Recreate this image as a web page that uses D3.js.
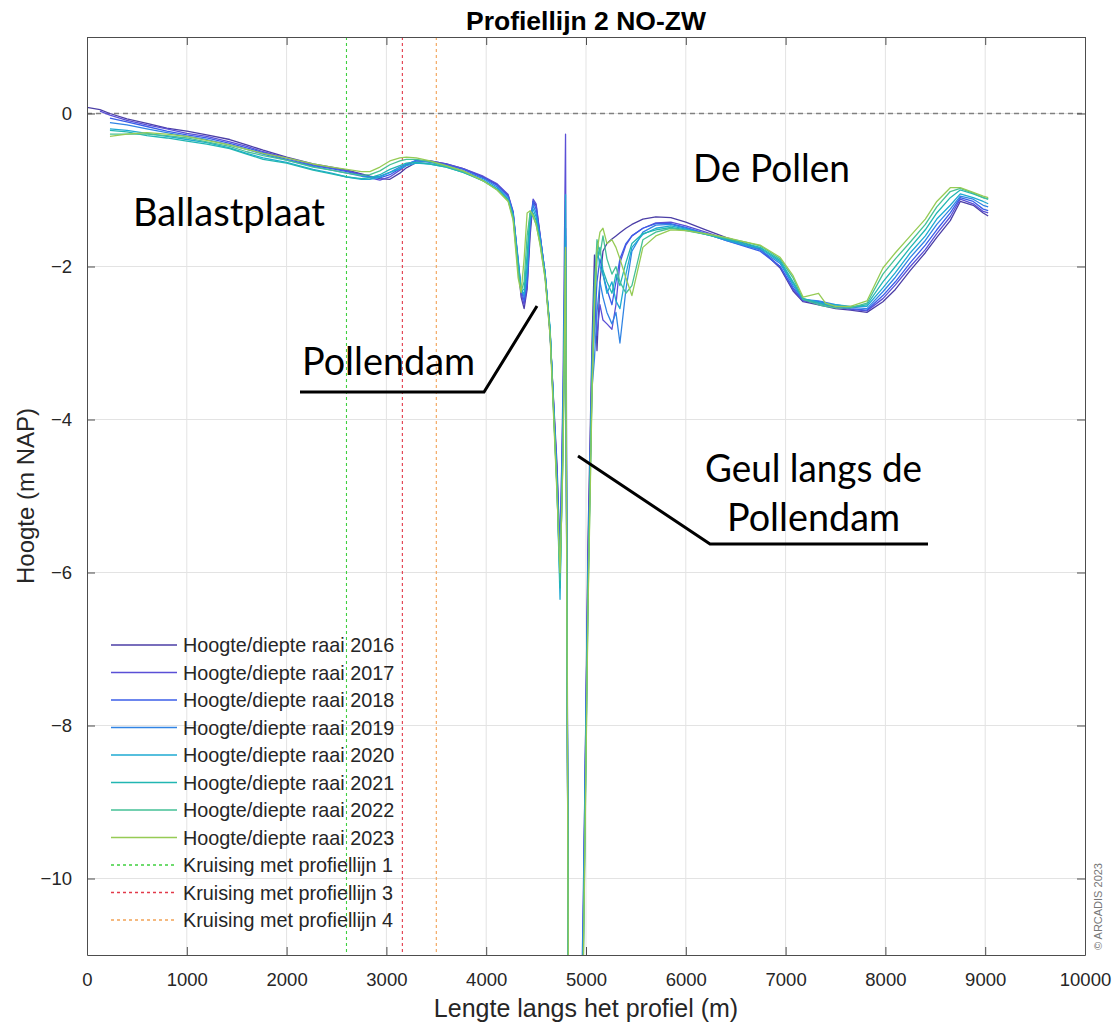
<!DOCTYPE html>
<html>
<head>
<meta charset="utf-8">
<script src="https://cdn.jsdelivr.net/npm/d3@7"></script>
<style>
  body { margin: 0; background: #fff; }
  svg { display: block; }
</style>
</head>
<body>
<svg id="chart" width="1117" height="1026"></svg>
<script>
// Distance along the profile (m), shared by all survey years
const distance = [
  0, 130, 230, 400, 600, 800, 1000, 1200, 1430, 1600, 1765, 2000, 2265, 2450, 2605, 2750, 2835, 2935, 3035, 3135, 3200, 3300, 3437, 3600, 3770, 3970, 4110, 4220, 4270,
  4320, 4350, 4380, 4410, 4440, 4470, 4500, 4540, 4590,
  4640, 4710, 4740, 4770, 4795, 4825, 4950, 4970, 5020, 5060,
  5085, 5110, 5140, 5170, 5210, 5260, 5300, 5340, 5400, 5460, 5570,
  5700, 5850, 6000, 6200, 6400, 6600, 6745, 6945, 7075, 7175, 7330, 7400, 7500, 7650, 7815, 7975, 8100, 8250, 8400, 8515, 8650, 8750, 8880, 8980, 9030
];

// Bed level (m NAP) per survey year
const raai2016 = [
  0.08, 0.05, 0.0, -0.07, -0.13, -0.19, -0.23, -0.28, -0.34, -0.41, -0.48, -0.57, -0.66, -0.7, -0.74, -0.79, -0.82, -0.85, -0.86, -0.78, -0.71, -0.64, -0.62, -0.66, -0.72, -0.83, -0.93, -1.07, -1.3,
  -2.0, -2.4, -2.55, -2.3, -1.6, -1.15, -1.2, -1.6, -2.1,
  -2.9, -4.6, -5.8, -4.2, -2.0, -12, -12, -10.8, -5.6, -3.0,
  -1.85, -3.1, -2.2, -1.8, -1.7, -1.64, -1.6, -1.56, -1.5, -1.45, -1.38,
  -1.35, -1.36, -1.42, -1.52, -1.62, -1.7, -1.77, -2.02, -2.32, -2.46, -2.5, -2.52, -2.55, -2.57, -2.6, -2.46, -2.3, -2.05, -1.82, -1.62, -1.4, -1.15, -1.2, -1.3, -1.34
];
const raai2017 = [
  null, 0.03, -0.02, -0.09, -0.15, -0.2, -0.26, -0.3, -0.37, -0.43, -0.5, -0.58, -0.67, -0.71, -0.75, -0.8, -0.84, -0.87, -0.83, -0.74, -0.68, -0.62, -0.62, -0.66, -0.72, -0.82, -0.92, -1.06, -1.28,
  -1.95, -2.35, -2.5, -2.25, -1.5, -1.12, -1.18, -1.58, -2.1,
  -2.85, -4.7, -5.9, -3.5, -0.27, -12, -12, -11.0, -5.8, -3.2,
  -2.4, -2.9, -2.5, -2.7, -2.75, -2.82, -2.5, -1.95, -1.72, -1.6, -1.5,
  -1.43, -1.42, -1.47, -1.55, -1.64, -1.72, -1.78, -2.0, -2.3, -2.45, -2.48, -2.5, -2.53, -2.56, -2.58, -2.42, -2.24, -2.0, -1.78, -1.57, -1.35, -1.12, -1.18, -1.28, -1.3
];
const raai2018 = [
  null, null, -0.06, -0.11, -0.17, -0.23, -0.28, -0.32, -0.39, -0.45, -0.51, -0.6, -0.68, -0.72, -0.76, -0.81, -0.83, -0.84, -0.8, -0.72, -0.67, -0.61, -0.63, -0.67, -0.73, -0.84, -0.94, -1.08, -1.3,
  -1.9, -2.3, -2.45, -2.2, -1.45, -1.15, -1.25, -1.6, -2.08,
  -2.85, -4.75, -5.7, -3.8, -1.5, -12, -12, -10.5, -6.0, -3.4,
  -2.8, -2.2, -1.9, -2.1, -2.3, -2.5, -2.2, -1.9, -1.7, -1.6, -1.5,
  -1.44, -1.44, -1.49, -1.57, -1.66, -1.74, -1.8, -2.0, -2.28, -2.44, -2.46, -2.48, -2.52, -2.55, -2.57, -2.38, -2.2, -1.95, -1.72, -1.52, -1.3, -1.1, -1.15, -1.25, -1.27
];
const raai2019 = [
  null, null, -0.12, -0.15, -0.2, -0.25, -0.3, -0.34, -0.41, -0.47, -0.53, -0.61, -0.69, -0.74, -0.78, -0.82, -0.83, -0.82, -0.77, -0.7, -0.66, -0.62, -0.64, -0.68, -0.75, -0.85, -0.96, -1.1, -1.32,
  -1.92, -2.3, -2.4, -2.1, -1.4, -1.2, -1.3, -1.62, -2.08,
  -2.85, -4.8, -5.95, -4.0, -1.6, -12, -12, -10.9, -6.1, -3.6,
  -3.2, -2.6, -2.2, -2.4, -2.6, -2.75, -2.6, -3.0, -2.3, -1.8, -1.55,
  -1.46, -1.45, -1.5, -1.57, -1.66, -1.73, -1.78, -1.96, -2.25, -2.43, -2.45, -2.47, -2.5, -2.53, -2.55, -2.33, -2.14, -1.88, -1.66, -1.45, -1.25, -1.08, -1.12, -1.2, -1.22
];
const raai2020 = [
  null, null, -0.2, -0.22, -0.26, -0.3, -0.34, -0.38, -0.45, -0.52, -0.58, -0.64, -0.73, -0.78, -0.83, -0.86, -0.86, -0.83, -0.77, -0.72, -0.68, -0.65, -0.66, -0.7, -0.77, -0.87, -0.98, -1.12, -1.33,
  -1.95, -2.3, -2.36, -2.0, -1.35, -1.25, -1.35, -1.65, -2.1,
  -2.8, -4.9, -6.35, -4.1, -1.06, -12, -12, -11.2, -6.3, -3.3,
  -2.2, -1.75, -2.0, -2.1, -2.35, -2.2, -2.45, -2.55, -2.1, -1.75, -1.58,
  -1.5, -1.47, -1.51, -1.58, -1.65, -1.72, -1.76, -1.94, -2.22, -2.42, -2.47, -2.49, -2.5, -2.52, -2.52, -2.28, -2.08, -1.82, -1.6, -1.38, -1.2, -1.05, -1.1, -1.15, -1.18
];
const raai2021 = [
  null, null, -0.22, -0.24, -0.29, -0.32, -0.36, -0.4, -0.46, -0.53, -0.6, -0.65, -0.74, -0.79, -0.83, -0.85, -0.84, -0.8, -0.73, -0.68, -0.65, -0.64, -0.66, -0.7, -0.77, -0.88, -0.99, -1.13, -1.35,
  -2.0, -2.32, -2.3, -1.85, -1.3, -1.3, -1.4, -1.68, -2.12,
  -2.82, -4.9, -6.2, -4.3, -1.9, -12, -12, -11.3, -6.2, -3.5,
  -2.6, -1.9, -1.75, -2.05, -2.2, -2.35, -2.1, -2.25, -1.95, -1.7, -1.57,
  -1.52, -1.49, -1.52, -1.58, -1.64, -1.7, -1.75, -1.92, -2.2, -2.42, -2.48, -2.5, -2.52, -2.53, -2.5, -2.2, -2.0, -1.75, -1.52, -1.3, -1.1, -1.0, -1.05, -1.1, -1.12
];
const raai2022 = [
  null, null, -0.27, -0.27, -0.27, -0.29, -0.32, -0.37, -0.43, -0.5, -0.55, -0.61, -0.7, -0.74, -0.78, -0.81, -0.8, -0.75, -0.67, -0.62, -0.6, -0.6, -0.63, -0.69, -0.76, -0.88, -1.0, -1.14, -1.37,
  -2.05, -2.33, -2.2, -1.6, -1.3, -1.35, -1.45, -1.7, -2.14,
  -2.85, -4.95, -6.1, -4.4, -1.8, -12, -12, -11.4, -6.4, -3.6,
  -2.3, -1.65, -1.85, -1.6, -1.9, -2.1, -2.0, -2.2, -2.35, -2.25, -1.65,
  -1.55, -1.5, -1.53, -1.58, -1.63, -1.68, -1.73, -1.9, -2.15, -2.43, -2.5, -2.52, -2.54, -2.54, -2.48, -2.1, -1.9, -1.68, -1.45, -1.22, -1.02, -0.98, -1.04, -1.1, -1.12
];
const raai2023 = [
  null, null, -0.3, -0.27, -0.25, -0.27, -0.3, -0.35, -0.41, -0.47, -0.52, -0.58, -0.66, -0.7, -0.73, -0.76, -0.76, -0.7, -0.62, -0.58, -0.57, -0.58, -0.62, -0.68, -0.75, -0.88, -1.0, -1.15, -1.4,
  -2.15, -2.34, -1.9, -1.3, -1.27, -1.33, -1.45, -1.72, -2.16,
  -2.9, -5.0, -6.0, -4.5, -1.75, -12, -12, -11.5, -6.5, -3.7,
  -2.5, -1.8, -1.55, -1.5, -1.7, -1.65, -1.75, -1.9, -2.15, -2.38, -1.75,
  -1.6, -1.52, -1.53, -1.57, -1.62, -1.68, -1.72, -1.88, -2.12, -2.4, -2.35, -2.48, -2.52, -2.52, -2.45, -2.02, -1.82, -1.6, -1.38, -1.15, -0.97, -0.97, -1.03, -1.08, -1.1
];

const years = ["2016", "2017", "2018", "2019", "2020", "2021", "2022", "2023"];
const yearValues = [raai2016, raai2017, raai2018, raai2019, raai2020, raai2021, raai2022, raai2023];
const yearColors = ["#4b3ea6", "#5a4fd6", "#3b5ee8", "#3184e4", "#1eaad2", "#22b6b2", "#45c196", "#96cb55"];

// Crossings with the other profile lines (m along this profile)
const crossingDistance = [2600, 3160, 3500];
const crossingNames = ["Kruising met profiellijn 1", "Kruising met profiellijn 3", "Kruising met profiellijn 4"];
const crossingColors = ["#3fcf3f", "#e23a4a", "#f2a255"];

const xTicks = [0, 1000, 2000, 3000, 4000, 5000, 6000, 7000, 8000, 9000, 10000];
const yTicks = [-10, -8, -6, -4, -2, 0];

const svg = d3.select("#chart");
const W = 1117, H = 1026;
const margin = { left: 87, right: 32, top: 37, bottom: 71 };
const x = d3.scaleLinear().domain([0, 10000]).range([margin.left, W - margin.right]);
const y = d3.scaleLinear().domain([-11, 1]).range([H - margin.bottom, margin.top]);
const font = "'Liberation Sans', Arial, sans-serif";
const axisColor = "#4d4d4d";
const textColor = "#262626";

svg.append("rect").attr("width", W).attr("height", H).attr("fill", "#fff");

svg.append("defs").append("clipPath").attr("id", "plotClip")
  .append("rect")
  .attr("x", x(0)).attr("y", y(1))
  .attr("width", x(10000) - x(0)).attr("height", y(-11) - y(1));

// grid
const grid = svg.append("g");
grid.selectAll(".gx").data(xTicks.slice(1, -1)).join("line")
  .attr("x1", d => x(d)).attr("x2", d => x(d))
  .attr("y1", y(1)).attr("y2", y(-11))
  .attr("stroke", "#e3e3e3").attr("stroke-width", 1);
grid.selectAll(".gy").data(yTicks).join("line")
  .attr("x1", x(0)).attr("x2", x(10000))
  .attr("y1", d => y(d)).attr("y2", d => y(d))
  .attr("stroke", "#e3e3e3").attr("stroke-width", 1);

const plot = svg.append("g").attr("clip-path", "url(#plotClip)");

// NAP zero reference
plot.append("line")
  .attr("x1", x(0)).attr("x2", x(10000))
  .attr("y1", y(0)).attr("y2", y(0))
  .attr("stroke", "#808080").attr("stroke-width", 1.3)
  .attr("stroke-dasharray", "5,4");

// crossing markers
plot.selectAll(".cross").data(crossingDistance).join("line")
  .attr("x1", d => x(d)).attr("x2", d => x(d))
  .attr("y1", y(1)).attr("y2", y(-11))
  .attr("stroke", (d, i) => crossingColors[i])
  .attr("stroke-width", 1.1)
  .attr("stroke-dasharray", "3,3");

// profile lines
const line = d3.line()
  .defined(d => d[1] !== null)
  .x(d => x(d[0]))
  .y(d => y(d[1]));

yearValues.forEach((vals, i) => {
  plot.append("path")
    .datum(distance.map((dv, j) => [dv, vals[j]]))
    .attr("fill", "none")
    .attr("stroke", yearColors[i])
    .attr("stroke-width", 1.3)
    .attr("stroke-linejoin", "round")
    .attr("d", line);
});

// axes (ticks pointing inward)
function styleAxis(g) {
  g.selectAll("path").attr("stroke", axisColor);
  g.selectAll("line").attr("stroke", axisColor);
  g.selectAll("text").attr("fill", textColor).attr("font-family", font).attr("font-size", 18.5);
}
svg.append("g").attr("transform", `translate(0,${y(-11)})`)
  .call(d3.axisBottom(x).tickValues(xTicks).tickFormat(d3.format("d")).tickSizeInner(-8).tickSizeOuter(0).tickPadding(18))
  .call(styleAxis);
svg.append("g").attr("transform", `translate(0,${y(1)})`)
  .call(d3.axisTop(x).tickValues(xTicks).tickFormat("").tickSizeInner(-8).tickSizeOuter(0))
  .call(styleAxis);
svg.append("g").attr("transform", `translate(${x(0)},0)`)
  .call(d3.axisLeft(y).tickValues(yTicks).tickFormat(d3.format("d")).tickSizeInner(-8).tickSizeOuter(0).tickPadding(15))
  .call(styleAxis);
svg.append("g").attr("transform", `translate(${x(10000)},0)`)
  .call(d3.axisRight(y).tickValues(yTicks).tickFormat("").tickSizeInner(-8).tickSizeOuter(0))
  .call(styleAxis);

// titles
svg.append("text")
  .attr("x", (x(0) + x(10000)) / 2).attr("y", 30)
  .attr("text-anchor", "middle")
  .attr("font-family", font).attr("font-weight", "bold").attr("font-size", 26.5)
  .attr("fill", "#000")
  .text("Profiellijn 2 NO-ZW");
svg.append("text")
  .attr("x", (x(0) + x(10000)) / 2).attr("y", 1017)
  .attr("text-anchor", "middle")
  .attr("font-family", font).attr("font-size", 25)
  .attr("fill", textColor)
  .text("Lengte langs het profiel (m)");
svg.append("text")
  .attr("transform", `translate(34,${(y(1) + y(-11)) / 2}) rotate(-90)`)
  .attr("text-anchor", "middle")
  .attr("font-family", font).attr("font-size", 24)
  .attr("fill", textColor)
  .text("Hoogte (m NAP)");

// legend
const legendItems = years.map((yr, i) => ({ label: "Hoogte/diepte raai " + yr, color: yearColors[i], dash: null }))
  .concat(crossingNames.map((n, i) => ({ label: n, color: crossingColors[i], dash: "3,3" })));
const legend = svg.append("g");
legendItems.forEach((d, i) => {
  const ly = 645 + i * 27.5;
  legend.append("line")
    .attr("x1", 111).attr("x2", 177).attr("y1", ly).attr("y2", ly)
    .attr("stroke", d.color).attr("stroke-width", 1.3)
    .attr("stroke-dasharray", d.dash);
  legend.append("text")
    .attr("x", 183).attr("y", ly).attr("dy", "0.36em")
    .attr("font-family", font).attr("font-size", 19.8)
    .attr("fill", textColor)
    .text(d.label);
});

// area annotations
const annoFont = "Lato, 'Open Sans', sans-serif";
const annotations = [
  { text: "Ballastplaat", x: 133, y: 226, w: 192 },
  { text: "De Pollen", x: 693, y: 182, w: 157 },
  { text: "Pollendam", x: 302, y: 375, w: 173 },
  { text: "Geul langs de", x: 705, y: 482, w: 217 },
  { text: "Pollendam", x: 727, y: 531, w: 173 }
];
annotations.forEach(a => {
  svg.append("text")
    .attr("x", a.x).attr("y", a.y)
    .attr("font-family", annoFont).attr("font-size", 38)
    .attr("fill", "#000")
    .attr("textLength", a.w).attr("lengthAdjust", "spacingAndGlyphs")
    .text(a.text);
});
svg.append("polyline")
  .attr("points", "300,392 484,392 537,306")
  .attr("fill", "none").attr("stroke", "#000").attr("stroke-width", 3);
svg.append("polyline")
  .attr("points", "578,456 710,544 928,544")
  .attr("fill", "none").attr("stroke", "#000").attr("stroke-width", 3);

// credit
svg.append("text")
  .attr("transform", "translate(1102,950) rotate(-90)")
  .attr("font-family", font).attr("font-size", 11)
  .attr("fill", "#777")
  .text("© ARCADIS 2023");
</script>
</body>
</html>
